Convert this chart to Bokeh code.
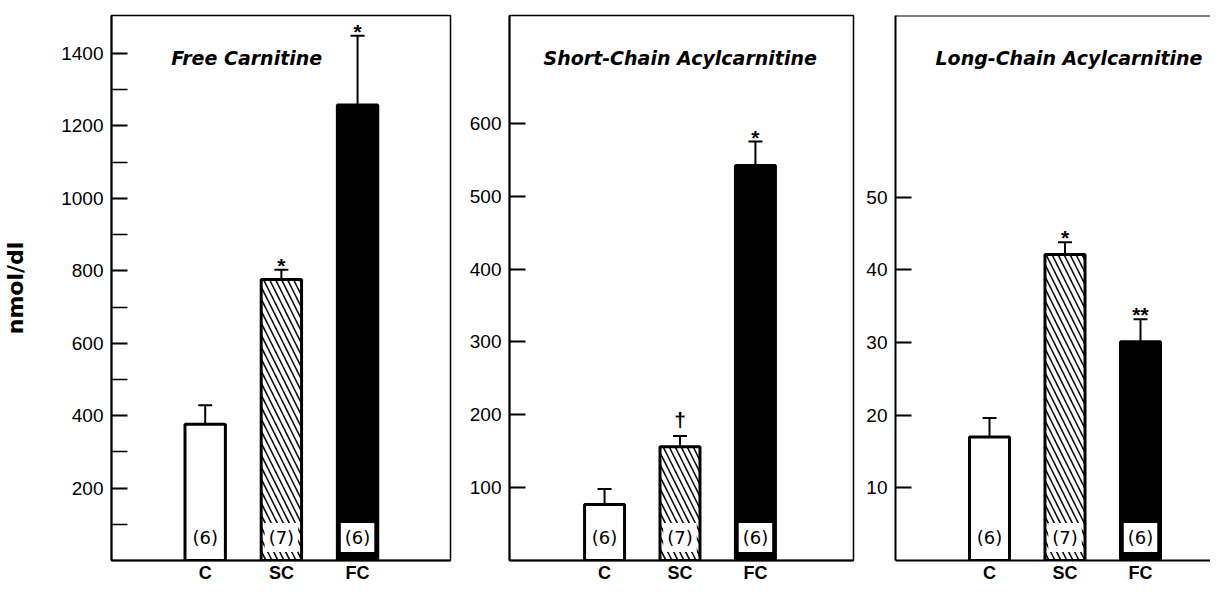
from bokeh.plotting import figure
from bokeh.models import (Whisker, TeeHead, Label, LabelSet, FixedTicker,
                          ColumnDataSource, Span, Range1d)
from bokeh.layouts import row
from bokeh.embed import file_html
from bokeh.resources import INLINE
from bokeh.core.properties import value

# ---------------- data ----------------
groups = ["C", "SC", "FC"]
n_animals = ["(6)", "(7)", "(6)"]

free_mean = [376, 776, 1258]
free_sem = [53, 27, 191]
free_sig = ["", "*", "*"]

short_mean = [77, 156, 542]
short_sem = [21, 15, 33]
short_sig = ["", "\u2020", "*"]

long_mean = [17.0, 42.1, 30.1]
long_sem = [2.6, 1.7, 3.1]
long_sig = ["", "*", "**"]

titles = ["Free Carnitine", "Short-Chain Acylcarnitine", "Long-Chain Acylcarnitine"]
y_label = "nmol/dl"

free_ticks = [200, 400, 600, 800, 1000, 1200, 1400]
free_minor = [100, 300, 500, 700, 900, 1100, 1300]
short_ticks = [100, 200, 300, 400, 500, 600]
long_ticks = [10, 20, 30, 40, 50]

fills = ["white", "white", "black"]
hatches = [" ", "\\", " "]

FONT = "Liberation Sans"
WIDE = "DejaVu Sans"
H = 585


def panel(mean, sem, sig, title, ticks, minor, y_end, x_rng, borders, title_px,
          ylab=None, outline=True):
    left, frame_w, right = borders
    p = figure(width=left + frame_w + right, height=H,
               x_range=Range1d(*x_rng), y_range=Range1d(0, y_end),
               toolbar_location=None, output_backend="svg",
               min_border_left=left, min_border_right=right,
               min_border_top=15, min_border_bottom=24,
               background_fill_color="white", border_fill_color="white")
    p.xgrid.visible = False
    p.ygrid.visible = False
    if outline:
        p.outline_line_color = "black"
        p.outline_line_width = 1.5
        p.outline_line_alpha = 1.0
    else:
        p.outline_line_color = None
        p.add_layout(Span(location=y_end, dimension="width",
                          line_color="black", line_width=2))

    xs = [i + 1 for i in range(len(groups))]
    src = ColumnDataSource(dict(
        x=xs, top=mean, upper=[m + s for m, s in zip(mean, sem)],
        fill=fills, hatch=hatches, sig=sig, n=n_animals,
        sig_off=[-3 if "*" in s else 9 for s in sig],
    ))

    p.vbar(x="x", top="top", bottom=0, width=0.53, source=src,
           fill_color="fill", line_color="black", line_width=3,
           hatch_pattern="hatch", hatch_color="black", hatch_scale=12,
           hatch_weight=1.5)

    p.add_layout(Whisker(source=src, base="x", lower="top", upper="upper",
                         dimension="height", line_width=2, line_color="black",
                         lower_head=None,
                         upper_head=TeeHead(size=14, line_width=2,
                                            line_color="black"),
                         level="overlay"))

    p.add_layout(LabelSet(source=src, x="x", y="upper", text="sig",
                          y_offset="sig_off", text_align="center",
                          text_baseline="alphabetic",
                          text_font=value(FONT), text_font_style="bold",
                          text_font_size="21px", text_color="black"))

    for xi, n in zip(xs, n_animals):
        p.add_layout(Label(x=xi, y=0, y_offset=23, text=n,
                           text_align="center", text_baseline="middle",
                           text_font=WIDE, text_font_size="18px",
                           text_color="black",
                           background_fill_color="white", padding=4))

    ppu = frame_w / (x_rng[1] - x_rng[0])
    p.add_layout(Label(x=x_rng[0] + title_px / ppu, y=y_end, y_offset=-42,
                       text=title, text_align="left", text_baseline="middle",
                       text_font=WIDE, text_font_style="bold italic",
                       text_font_size="19px", text_color="black"))

    # y axis
    ya = p.yaxis[0]
    ya.ticker = FixedTicker(ticks=ticks, minor_ticks=minor)
    ya.major_tick_in = 16
    ya.major_tick_out = 0
    ya.minor_tick_in = 16
    ya.minor_tick_out = 0
    ya.axis_line_width = 2
    ya.major_tick_line_width = 2
    ya.minor_tick_line_width = 1.5
    ya.axis_line_color = "black"
    ya.major_tick_line_color = "black"
    ya.minor_tick_line_color = "black"
    ya.major_label_text_font = FONT
    ya.major_label_text_font_size = "19px"
    ya.major_label_text_color = "black"
    ya.major_label_standoff = 8
    if ylab:
        ya.axis_label = ylab
        ya.axis_label_text_font = WIDE
        ya.axis_label_text_font_style = "bold"
        ya.axis_label_text_font_size = "22px"
        ya.axis_label_text_color = "black"
        ya.axis_label_standoff = 30

    # x axis
    xa = p.xaxis[0]
    xa.ticker = FixedTicker(ticks=xs)
    xa.major_label_overrides = {xi: g for xi, g in zip(xs, groups)}
    xa.major_tick_in = 0
    xa.major_tick_out = 0
    xa.minor_tick_in = 0
    xa.minor_tick_out = 0
    xa.axis_line_width = 2
    xa.axis_line_color = "black"
    xa.major_label_text_font = FONT
    xa.major_label_text_font_style = "bold"
    xa.major_label_text_font_size = "18px"
    xa.major_label_text_color = "black"
    xa.major_label_standoff = 2
    return p


p1 = panel(free_mean, free_sem, free_sig, titles[0], free_ticks, free_minor,
           1505, (-0.23, 4.22), (110, 340, 10), 60, ylab=y_label)
p2 = panel(short_mean, short_sem, short_sig, titles[1], short_ticks, [],
           748, (-0.26, 4.30), (49, 344, 2), 34)
p3 = panel(long_mean, long_sem, long_sig, titles[2], long_ticks, [],
           75, (-0.245, 3.927), (40, 315, 0), 40, outline=False)

layout = row(p1, p2, p3, spacing=0)

open("out.html", "w").write(file_html(layout, INLINE))
